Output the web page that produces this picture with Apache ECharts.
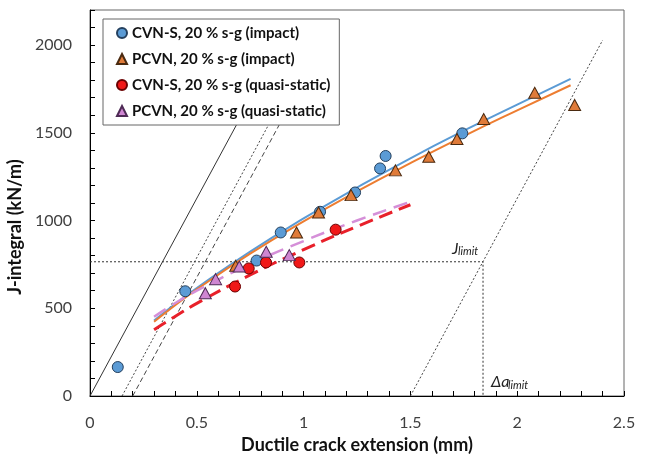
<!DOCTYPE html>
<html>
<head>
<meta charset="utf-8">
<script src="https://cdn.jsdelivr.net/npm/echarts@6/dist/echarts.min.js"></script>
<style>
html,body{margin:0;padding:0;background:#fff;}
#chart{width:648px;height:462px;}
</style>
</head>
<body>
<div id="chart"></div>
<script>
// ---- data ----
const cvnImpact = [[0.13,165],[0.446,597],[0.78,772],[0.893,932],[1.077,1050],[1.241,1160],[1.358,1297],[1.384,1368],[1.743,1497]];
const pcvnImpact = [[0.682,742],[0.967,932],[1.07,1046],[1.222,1145],[1.43,1286],[1.586,1364],[1.718,1465],[1.843,1579],[2.082,1728],[2.269,1659]];
const cvnQuasi = [[0.679,624],[0.743,727],[0.824,761],[0.98,761],[1.15,948]];
const pcvnQuasi = [[0.54,586],[0.588,666],[0.699,738],[0.825,822],[0.933,803]];

const impactFitX = [0.3,0.4,0.5,0.75,1.0,1.25,1.5,1.75,2.0,2.25];
const cvnImpactFit = [430,525,615,823,1012,1188,1355,1512,1661,1808];
const pcvnImpactFit = [423,519,608,811,995,1166,1327,1481,1628,1771];
const quasiFitX = [0.3,0.4,0.5,0.75,1.0,1.25,1.5];
const cvnQuasiFit = [378,455,528,690,834,966,1090];
const pcvnQuasiFit = [452,530,600,752,883,1000,1107];

const bluntLine = [[0,0],[0.9,2028]];
const offsetLine015 = [[0.15,0],[1.05,2028]];
const offsetLine02 = [[0.2,0],[1.1,2028]];
const exclusionLine = [[1.5,0],[2.4,2028]];
const jLimit = 765;
const daLimit = 1.84;
const limitLines = [[0,jLimit],[daLimit,jLimit],[daLimit,0]];

const names = ['CVN-S, 20 % s-g (impact)','PCVN, 20 % s-g (impact)','CVN-S, 20 % s-g (quasi-static)','PCVN, 20 % s-g (quasi-static)'];

const zip = (xs, ys) => xs.map((x,i) => [x, ys[i]]);
const FONT = 'Lato';

function refLine(name, data, dash, color){
  return {name, type:'line', data, symbol:'none', silent:true, z:1,
    lineStyle:{color: color||'#333', width:1, type: dash}, animation:false};
}
function fitLine(name, data, color, width, dash){
  return {name, type:'line', data, symbol:'none', silent:true, smooth:true, z:2,
    lineStyle:{color, width, type: dash||'solid'}, animation:false};
}
function scatter(name, data, symbol, size, fill, border){
  return {name, type:'scatter', data, symbol, symbolSize:size, z:5,
    itemStyle:{color:fill, borderColor:border, borderWidth:1, opacity:1}, animation:false};
}

const chart = echarts.init(document.getElementById('chart'), null, {renderer:'canvas'});
chart.setOption({
  backgroundColor:'#fff',
  animation:false,
  grid:{left:90, right:24, top:10, bottom:66, show:true, borderColor:'#666', borderWidth:1, containLabel:false, outerBoundsMode:'none'},
  legend:{
    data:names, orient:'vertical', left:103, top:19,
    backgroundColor:'#fff', borderColor:'#666', borderWidth:1,
    padding:[5,9,5,13], itemWidth:10, itemHeight:10, itemGap:8,
    textStyle:{fontFamily:FONT, fontWeight:'bold', fontSize:15, color:'#111', lineHeight:18},
    selectedMode:false, z:10
  },
  xAxis:{
    type:'value', min:0, max:2.5, interval:0.1,
    name:'Ductile crack extension (mm)', nameLocation:'middle', nameGap:36,
    nameTextStyle:{fontFamily:FONT, fontWeight:'bold', fontSize:18, color:'#111'},
    axisLine:{show:true, onZero:false, lineStyle:{color:'#000', width:1}},
    axisTick:{show:true, inside:true, length:5, lineStyle:{color:'#000'}},
    axisLabel:{margin:19, fontFamily:FONT, fontSize:16, color:'#404040',
      formatter:v => (Math.abs(v*2 - Math.round(v*2)) < 1e-6) ? String(Math.round(v*10)/10) : ''},
    splitLine:{show:false}
  },
  yAxis:{
    type:'value', min:0, max:2200, interval:100,
    name:'J-integral (kN/m)', nameLocation:'middle', nameGap:59,
    nameTextStyle:{fontFamily:FONT, fontWeight:'bold', fontSize:18, color:'#111', padding:[0,48,0,0]},
    axisLine:{show:true, onZero:false, lineStyle:{color:'#000', width:1}},
    axisTick:{show:true, inside:true, length:5, lineStyle:{color:'#000'}},
    axisLabel:{margin:18, fontFamily:FONT, fontSize:16, color:'#404040',
      formatter:v => (v % 500 === 0) ? String(v) : ''},
    splitLine:{show:false}
  },
  graphic:[
    {type:'text', left:452, top:241, z:20, style:{text:'J', font:'italic 16px Lato', fill:'#222'}},
    {type:'text', left:458, top:246, z:20, style:{text:'limit', font:'italic 11px Lato', fill:'#222'}},
    {type:'text', left:491, top:374, z:20, style:{text:'\u0394a', font:'italic 16px Lato', fill:'#222'}},
    {type:'text', left:508, top:380, z:20, style:{text:'limit', font:'italic 11px Lato', fill:'#222'}}
  ],
  series:[
    refLine('blunt', bluntLine, 'solid', '#333'),
    refLine('offset015', offsetLine015, [2,2], '#444'),
    refLine('offset02', offsetLine02, [5,3], '#444'),
    refLine('exclusion', exclusionLine, [2,2], '#444'),
    refLine('limits', limitLines, [2,2], '#333'),
    fitLine('fit-cvn-impact', zip(impactFitX, cvnImpactFit), '#5B9BD5', 2),
    fitLine('fit-pcvn-impact', zip(impactFitX, pcvnImpactFit), '#ED7D31', 2),
    fitLine('fit-pcvn-quasi', zip(quasiFitX, pcvnQuasiFit), '#D58FD8', 2.5, [14,8]),
    fitLine('fit-cvn-quasi', zip(quasiFitX, cvnQuasiFit), '#E8202A', 3, [14,7]),
    scatter(names[0], cvnImpact, 'circle', 11, '#5B9BD5', '#24405e'),
    scatter(names[1], pcvnImpact, 'triangle', [12,11], '#E07B39', '#4a2a10'),
    scatter(names[2], cvnQuasi, 'circle', 11, '#F01818', '#6a0000'),
    scatter(names[3], pcvnQuasi, 'triangle', [12,11], '#CF86D2', '#4e2a55')
  ]
});
</script>
</body>
</html>
